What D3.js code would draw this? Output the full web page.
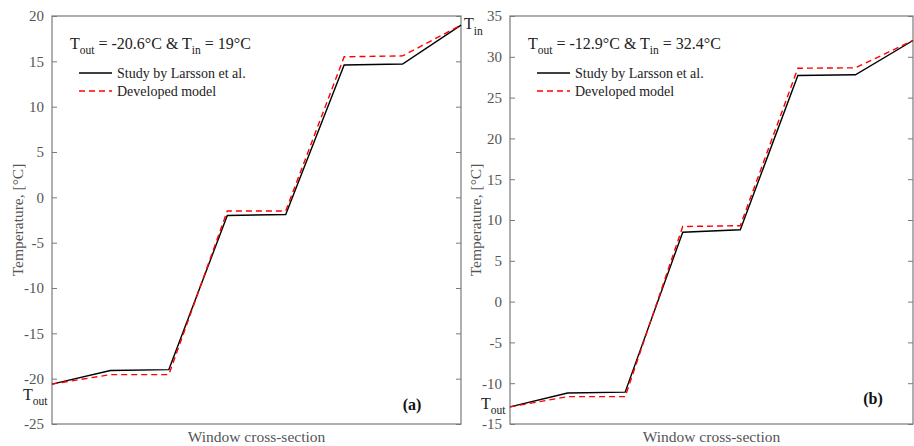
<!DOCTYPE html>
<html>
<head>
<meta charset="utf-8">
<script src="https://cdn.jsdelivr.net/npm/d3@7"></script>
<style>
  html, body { margin: 0; padding: 0; background: #fff; }
  svg { display: block; }
  text { font-family: "Liberation Serif", "DejaVu Serif", serif; }
</style>
</head>
<body>
<svg id="chart" width="914" height="446"></svg>
<script>
// Node positions across the window cross-section (surfaces / interfaces)
const nodes = [0, 1, 2, 3, 4, 5, 6, 7];

// Case (a): Tout = -20.6 °C, Tin = 19 °C
const larssonA = [-20.6, -19.1, -19.0, -2.0, -1.9, 14.6, 14.7, 19.0];
const modelA   = [-20.6, -19.55, -19.55, -1.5, -1.5, 15.5, 15.6, 19.0];
const ticksA   = [20, 15, 10, 5, 0, -5, -10, -15, -20, -25];

// Case (b): Tout = -12.9 °C, Tin = 32.4 °C
const larssonB = [-12.9, -11.2, -11.1, 8.5, 8.8, 27.7, 27.8, 32.0];
const modelB   = [-12.9, -11.65, -11.65, 9.2, 9.3, 28.6, 28.65, 32.0];
const ticksB   = [35, 30, 25, 20, 15, 10, 5, 0, -5, -10, -15];

const seriesNames = ["Study by Larsson et al.", "Developed model"];

const svg = d3.select("#chart");
const axisColor = "#7a7a7a";
const labelColor = "#555";

function panel(cfg) {
  const g = svg.append("g");
  const x = d3.scaleLinear().domain([0, 7]).range([cfg.x0, cfg.x1]);
  const y = d3.scaleLinear().domain(cfg.domain).range([cfg.y1, cfg.y0]);

  // frame
  g.append("rect")
    .attr("x", cfg.x0).attr("y", cfg.y0)
    .attr("width", cfg.x1 - cfg.x0).attr("height", cfg.y1 - cfg.y0)
    .attr("fill", "none").attr("stroke", axisColor).attr("stroke-width", 1.2);

  // left axis with inward ticks, plain hyphen for negatives
  const left = g.append("g").attr("transform", `translate(${cfg.x0},0)`)
    .call(d3.axisLeft(y).tickValues(cfg.ticks).tickSize(-5).tickPadding(8)
      .tickFormat(d => String(d)));
  left.attr("font-family", null);
  left.select(".domain").remove();
  left.selectAll("line").attr("stroke", axisColor);
  left.selectAll("text").attr("fill", labelColor).attr("font-size", 15);

  // mirrored ticks on the right edge
  const right = g.append("g").attr("transform", `translate(${cfg.x1},0)`)
    .call(d3.axisRight(y).tickValues(cfg.ticks).tickSize(-5).tickFormat(""));
  right.select(".domain").remove();
  right.selectAll("line").attr("stroke", axisColor);

  // lines
  const line = d3.line().x((d, i) => x(nodes[i])).y(d => y(d));
  g.append("path").datum(cfg.larsson).attr("d", line)
    .attr("fill", "none").attr("stroke", "#000").attr("stroke-width", 1.4);
  g.append("path").datum(cfg.model).attr("d", line)
    .attr("fill", "none").attr("stroke", "#ff0000").attr("stroke-width", 1.4)
    .attr("stroke-dasharray", "6,4");

  // axis titles
  g.append("text")
    .attr("transform", `translate(${cfg.ylabX},${(cfg.y0 + cfg.y1) / 2}) rotate(-90)`)
    .attr("text-anchor", "middle").attr("dominant-baseline", "central")
    .attr("font-size", 15.5).attr("fill", labelColor)
    .text("Temperature, [°C]");
  g.append("text")
    .attr("x", (cfg.x0 + cfg.x1) / 2).attr("y", 442)
    .attr("text-anchor", "middle").attr("font-size", 15.5).attr("fill", labelColor)
    .text("Window cross-section");

  // condition title
  const t = g.append("text").attr("x", cfg.x0 + 18).attr("y", 49)
    .attr("font-size", 16).attr("fill", "#222");
  t.append("tspan").text("T");
  t.append("tspan").attr("font-size", 11.5).attr("dy", 5).text("out");
  t.append("tspan").attr("dy", -5).text(` = ${cfg.tout}°C & T`);
  t.append("tspan").attr("font-size", 11.5).attr("dy", 5).text("in");
  t.append("tspan").attr("dy", -5).text(` = ${cfg.tin}°C`);

  // legend
  const lx = cfg.x0 + 27;
  [[73, "#000", null], [91, "#ff0000", "6,4"]].forEach(([ly, c, dash], i) => {
    const l = g.append("line").attr("x1", lx).attr("x2", lx + 33)
      .attr("y1", ly).attr("y2", ly).attr("stroke", c).attr("stroke-width", 1.4);
    if (dash) l.attr("stroke-dasharray", dash);
    g.append("text").attr("x", lx + 38).attr("y", ly + 5)
      .attr("font-size", 14).attr("fill", "#222").text(seriesNames[i]);
  });

  // panel tag
  g.append("text").attr("x", cfg.tagX).attr("y", cfg.tagY)
    .attr("text-anchor", "middle").attr("font-size", 16).attr("font-weight", "bold")
    .attr("fill", "#111").text(cfg.tag);

  // end-point labels
  const tl = g.append("text").attr("x", cfg.toutX).attr("y", cfg.toutY)
    .attr("font-size", 16).attr("fill", "#222");
  tl.append("tspan").text("T");
  tl.append("tspan").attr("font-size", 11.5).attr("dy", 5).text("out");
  if (cfg.showTin) {
    const ti = g.append("text").attr("x", cfg.x1 + 3).attr("y", 29)
      .attr("font-size", 16).attr("fill", "#222");
    ti.append("tspan").text("T");
    ti.append("tspan").attr("font-size", 11.5).attr("dy", 6).text("in");
  }
}

panel({
  x0: 52, x1: 461, y0: 16, y1: 424, domain: [-25, 20], ticks: ticksA,
  larsson: larssonA, model: modelA, ylabX: 17, tout: "-20.6", tin: "19",
  tag: "(a)", tagX: 412, tagY: 410, toutX: 23, toutY: 400, showTin: true
});
panel({
  x0: 510, x1: 913, y0: 16, y1: 424, domain: [-15, 35], ticks: ticksB,
  larsson: larssonB, model: modelB, ylabX: 475, tout: "-12.9", tin: "32.4",
  tag: "(b)", tagX: 873, tagY: 404, toutX: 481, toutY: 409, showTin: false
});
</script>
</body>
</html>
